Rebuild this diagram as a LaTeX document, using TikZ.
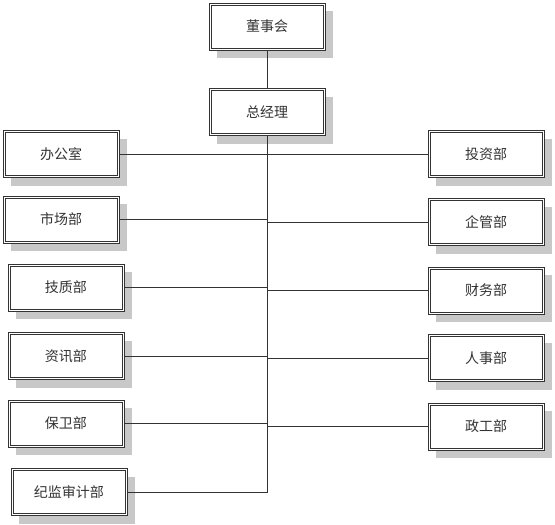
\documentclass[tikz,border=0pt]{standalone}
\usepackage{fontspec}
\usepackage{tikz}
\usetikzlibrary{shadows,positioning,calc}
\newfontfamily\cjk{Noto Sans CJK SC}
\definecolor{orgline}{HTML}{333333}
\definecolor{orgshade}{HTML}{C8C8C8}
\begin{document}
\begin{tikzpicture}[x=1pt,y=-1pt,font=\cjk\fontsize{14}{16}\selectfont,
    unit/.style={draw=orgline,line width=1pt,
      fill=white,minimum width=116pt,minimum height=47pt,inner sep=0pt,text=black!80,
      drop shadow={shadow xshift=8pt,shadow yshift=-8pt,fill=orgshade,opacity=1}},
    rim/.style={draw=orgline,line width=0.8pt},
    link/.style={draw=orgline,line width=0.8pt}]
    \useasboundingbox (0,0) rectangle (555,525);
    % top
    \node[unit] (dsh) at (267,26.5) {董事会};
    \node[unit] (zjl) at (267,112) {总经理};
    % left column
    \node[unit] (bgs) at (61,154) {办公室};
    \node[unit] (scb) at (61,219.5) {市场部};
    \node[unit] (jzb) at (66,287.5) {技质部};
    \node[unit] (zxb) at (66,356) {资讯部};
    \node[unit] (bwb) at (66,423.5) {保卫部};
    \node[unit] (jjsj) at (69,492) {纪监审计部};
    % right column
    \node[unit] (tzb) at (486,154) {投资部};
    \node[unit] (qgb) at (486,222) {企管部};
    \node[unit] (cwb) at (486,290.5) {财务部};
    \node[unit] (rsb) at (486,358) {人事部};
    \node[unit] (zgb) at (486,426.5) {政工部};
    % inner frame of each box
    \foreach \n in {dsh,zjl,bgs,scb,jzb,zxb,bwb,jjsj,tzb,qgb,cwb,rsb,zgb}
      \draw[rim] ($(\n.north west)+(2.5,2.5)$) rectangle ($(\n.south east)+(-2.5,-2.5)$);
    % links
    \draw[link] (dsh) -- (zjl);
    \draw[link] (zjl.south) -- (zjl.south |- jjsj.east) -- (jjsj.east);
    \draw[link] (bgs.east) -- (tzb.west);
    \foreach \n in {scb,jzb,zxb,bwb}
      \draw[link] (\n.east) -- (\n.east -| zjl.south);
    \foreach \n in {qgb,cwb,rsb,zgb}
      \draw[link] (\n.west) -- (\n.west -| zjl.south);
  \end{tikzpicture}
\end{document}
